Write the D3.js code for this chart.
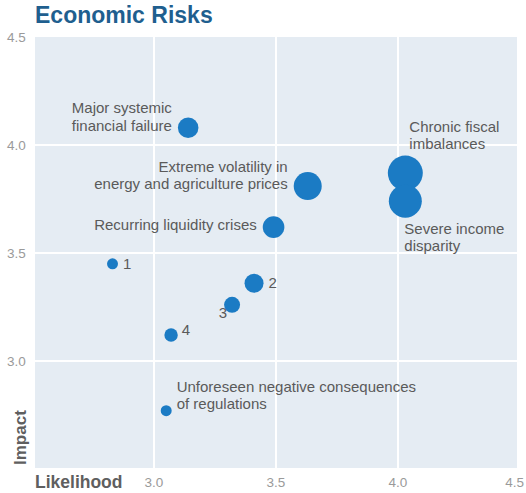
<!DOCTYPE html>
<html><head><meta charset="utf-8">
<script src="https://cdn.jsdelivr.net/npm/d3@7"></script>
<style>
html,body{margin:0;padding:0;background:#fff;}
svg{display:block;font-family:"Liberation Sans",Arial,Helvetica,sans-serif;}
</style></head>
<body>
<svg id="chart" width="526" height="493"></svg>
<script>
const names = ["Chronic fiscal imbalances","Severe income disparity","Extreme volatility in energy and agriculture prices","Major systemic financial failure","Recurring liquidity crises","1","2","3","4","Unforeseen negative consequences of regulations"];
const likelihood = [4.03, 4.03, 3.63, 3.14, 3.49, 2.83, 3.41, 3.32, 3.07, 3.05];
const impact = [3.87, 3.74, 3.81, 4.08, 3.62, 3.45, 3.36, 3.26, 3.12, 2.77];
const severity = [306, 272, 196, 106, 117, 30, 90, 64, 45, 30];
const labelLines = [["Chronic fiscal","imbalances"],["Severe income","disparity"],["Extreme volatility in","energy and agriculture prices"],["Major systemic","financial failure"],["Recurring liquidity crises"],["1"],["2"],["3"],["4"],["Unforeseen negative consequences","of regulations"]];
const labelSide = ["above","below","left","left","left","right","right","leftbelow","rightabove","rightabove"];
const xTicks = [3.0, 3.5, 4.0, 4.5];
const yTicks = [3.0, 3.5, 4.0, 4.5];

const svg = d3.select("#chart");
const plot = {l:35, r:517, t:37, b:468};
const x = d3.scaleLinear().domain([2.5, 4.5]).range([32, 520]);
const y = d3.scaleLinear().domain([2.5, 4.5]).range([469, 37]);
const r = d3.scaleSqrt().domain([0, d3.max(severity)]).range([0, 17.5]);

// title
svg.append("text").attr("x", 35).attr("y", 23).attr("fill", "#1f5f8f")
  .attr("font-size", 23).attr("font-weight", "bold").text("Economic Risks");

// plot background
svg.append("rect").attr("x", plot.l).attr("y", plot.t)
  .attr("width", plot.r - plot.l).attr("height", plot.b - plot.t).attr("fill", "#e5ecf3");

// grid lines
svg.selectAll(".vg").data(xTicks.filter(v => v < 4.5)).join("line")
  .attr("x1", d => x(d)).attr("x2", d => x(d)).attr("y1", plot.t).attr("y2", plot.b)
  .attr("stroke", "#fff").attr("stroke-width", 2);
svg.selectAll(".hg").data(yTicks.filter(v => v < 4.5)).join("line")
  .attr("y1", d => y(d)).attr("y2", d => y(d)).attr("x1", plot.l).attr("x2", plot.r)
  .attr("stroke", "#fff").attr("stroke-width", 2);

// tick labels
svg.selectAll(".yt").data(yTicks).join("text")
  .attr("x", 7).attr("y", d => y(d)).attr("dy", "0.35em")
  .attr("font-size", 13.5).attr("fill", "#9a9a9a").text(d => d.toFixed(1));
svg.selectAll(".xt").data(xTicks).join("text")
  .attr("x", d => d === 4.5 ? 524 : x(d)).attr("y", 482).attr("dy", "0.35em")
  .attr("text-anchor", d => d === 4.5 ? "end" : "middle")
  .attr("font-size", 13.5).attr("fill", "#9a9a9a").text(d => d.toFixed(1));

// axis titles
svg.append("text").attr("x", 35).attr("y", 482).attr("dy", "0.35em")
  .attr("font-size", 17.5).attr("font-weight", "bold").attr("fill", "#5f5f5f").text("Likelihood");
svg.append("text").attr("transform", "translate(26,465) rotate(-90)")
  .attr("font-size", 17).attr("font-weight", "bold").attr("fill", "#5f5f5f").text("Impact");

// bubbles
const data = names.map((n, i) => ({n, x: likelihood[i], y: impact[i], s: severity[i], lines: labelLines[i], side: labelSide[i]}));
svg.selectAll(".b").data(data).join("circle")
  .attr("cx", d => x(d.x)).attr("cy", d => y(d.y)).attr("r", d => r(d.s))
  .attr("fill", "#1b7bc4");

// labels
const lh = 17.5;
data.forEach(d => {
  const cx = x(d.x), cy = y(d.y), rr = r(d.s);
  let tx, ty, anchor;
  const n = d.lines.length;
  if (d.side === "left") { tx = cx - rr - 6; ty = cy - (n - 1) * lh - 2; anchor = "end"; }
  else if (d.side === "right") { tx = cx + rr + 5; ty = cy; anchor = "start"; }
  else if (d.side === "above") { tx = cx + 4; ty = cy - rr - 29; anchor = "start"; }
  else if (d.side === "below") { tx = cx - 1; ty = cy + rr + 11; anchor = "start"; }
  else if (d.side === "leftbelow") { tx = cx - 5; ty = cy + 8; anchor = "end"; }
  else { tx = cx + rr + 4; ty = cy - 5; anchor = "start"; if (n > 1) { tx = cx + rr + 5; ty = cy - 24; } }
  const t = svg.append("text").attr("font-size", 15).attr("fill", "#5a5a5a").attr("text-anchor", anchor);
  d.lines.forEach((line, k) => {
    t.append("tspan").attr("x", tx).attr("y", ty + k * lh).attr("dy", "0.35em").text(line);
  });
});
</script>
</body></html>
